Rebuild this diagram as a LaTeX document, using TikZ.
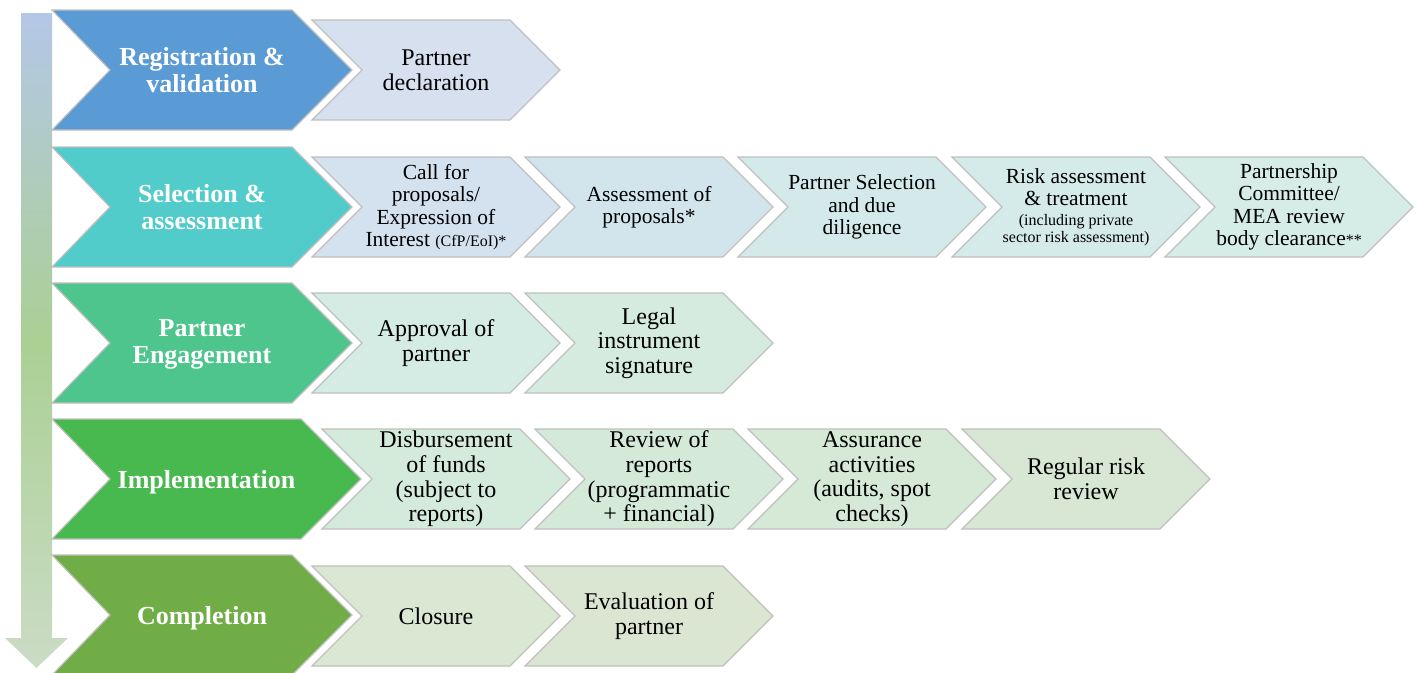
\documentclass[tikz,border=0pt]{standalone}
\usepackage{fontspec}
\setmainfont{Liberation Serif}
\begin{document}
\begin{tikzpicture}[x=1pt,y=-1pt,
  outline/.style={draw=black!25, line width=1.2pt, line join=miter},
  bigtext/.style={inner sep=0pt, align=center, text=white,
    font=\fontsize{26}{27}\selectfont\bfseries},
  smalltext/.style={inner sep=0pt, align=center, text=black,
    font=\fontsize{24}{24.7}\selectfont},
  densetext/.style={inner sep=0pt, align=center, text=black,
    font=\fontsize{21.5}{22.5}\selectfont}
]
\definecolor{cReg}{HTML}{5B9BD5}
\definecolor{cSel}{HTML}{52CBCB}
\definecolor{cEng}{HTML}{4FC58E}
\definecolor{cImp}{HTML}{47B94F}
\definecolor{cCom}{HTML}{70AD47}
\definecolor{sA}{HTML}{D6E0EF}
\definecolor{sB1}{HTML}{D4E1EE}
\definecolor{sB2}{HTML}{D3E5EC}
\definecolor{sB3}{HTML}{D3E9EA}
\definecolor{sB4}{HTML}{D4EBE9}
\definecolor{sB5}{HTML}{D5ECE7}
\definecolor{sC1}{HTML}{D5ECE4}
\definecolor{sC2}{HTML}{D5EBE0}
\definecolor{sD1}{HTML}{D4EADB}
\definecolor{sD2}{HTML}{D5E9D9}
\definecolor{sD3}{HTML}{D6E8D6}
\definecolor{sD4}{HTML}{D7E7D3}
\definecolor{sE1}{HTML}{D9E7D3}
\definecolor{sE2}{HTML}{DAE5D2}
\definecolor{arTop}{HTML}{B4C7E7}
\definecolor{arMid}{HTML}{AAD094}
\definecolor{arBot}{HTML}{CBDCC5}

% small print inside task labels
\newcommand{\smallprint}{\fontsize{16}{17}\selectfont}

% canvas
\useasboundingbox (0,0) rectangle (1418,672);

% large step chevron: name, top, extra width, colour, text shift, label
\newcommand{\stagechev}[6]{%
  \filldraw[outline, fill=#4] (52,#2) -- (292+#3,#2) -- (352+#3,#2+60)
    -- (292+#3,#2+120) -- (52,#2+120) -- (110,#2+60) -- cycle;
  \node[bigtext] (#1) at (202+#3/2,#2+60+#5) {#6};}
% small task chevron: name, left, top, colour, text style, label
\newcommand{\taskchev}[6]{%
  \filldraw[outline, fill=#4] (#2,#3) -- (#2+198,#3) -- (#2+248,#3+50)
    -- (#2+198,#3+100) -- (#2,#3+100) -- (#2+50,#3+50) -- cycle;
  \node[#5] (#1) at (#2+124,#3+50) {#6};}

% downward flow arrow
\shade[top color=arTop, bottom color=arBot, middle color=arMid]
  (21,13) -- (52,13) -- (52,638) -- (68,638) -- (36.5,668) -- (5,638)
  -- (21,638) -- cycle;

% stages
\stagechev{reg}{10}{0}{cReg}{0}{Registration \&\\validation}
\stagechev{sel}{147}{0}{cSel}{0}{Selection \&\\assessment}
\stagechev{eng}{283}{0}{cEng}{1}{Partner\\Engagement}
\stagechev{imp}{419}{9}{cImp}{3}{Implementation}
\stagechev{com}{555}{0}{cCom}{3}{Completion}

% registration tasks
\taskchev{decl}{312}{20}{sA}{smalltext}{Partner\\declaration}

% selection tasks
\taskchev{cfp}{312}{157}{sB1}{densetext}{Call for\\proposals/\\Expression of\\Interest {\smallprint(CfP/EoI)*}}
\taskchev{asmt}{525}{157}{sB2}{densetext}{Assessment of\\proposals*}
\taskchev{psel}{738}{157}{sB3}{densetext}{Partner Selection\\and due\\diligence}
\taskchev{risk}{952}{157}{sB4}{densetext}{Risk assessment\\\& treatment\\[-3pt]{\smallprint(including private}\\[-5pt]{\smallprint sector risk assessment)}}
\taskchev{pcom}{1165}{157}{sB5}{densetext}{Partnership\\Committee/\\MEA review\\body clearance{\smallprint**}}

% engagement tasks
\taskchev{appr}{312}{293}{sC1}{smalltext}{Approval of\\partner}
\taskchev{legal}{525}{293}{sC2}{smalltext}{Legal\\instrument\\signature}

% implementation tasks
\taskchev{disb}{322}{429}{sD1}{smalltext}{Disbursement\\of funds\\(subject to\\reports)}
\taskchev{rev}{535}{429}{sD2}{smalltext}{Review of\\reports\\(programmatic\\+ financial)}
\taskchev{assur}{748}{429}{sD3}{smalltext}{Assurance\\activities\\(audits, spot\\checks)}
\taskchev{rrisk}{962}{429}{sD4}{smalltext}{Regular risk\\review}

% completion tasks
\taskchev{clos}{312}{566}{sE1}{smalltext}{Closure}
\taskchev{eval}{525}{566}{sE2}{smalltext}{Evaluation of\\partner}
\end{tikzpicture}
\end{document}
